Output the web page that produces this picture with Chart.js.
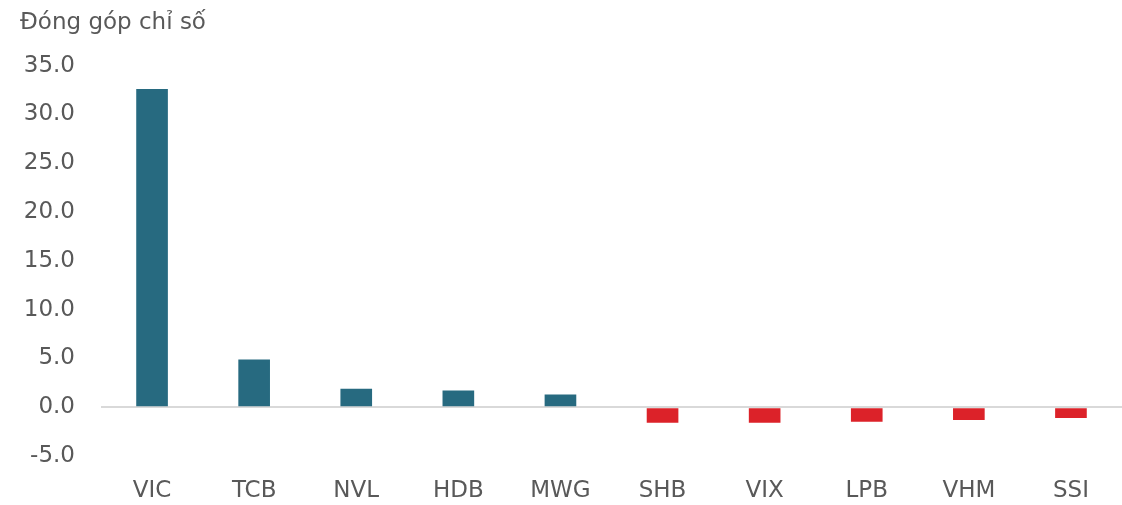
<!DOCTYPE html>
<html>
<head>
<meta charset="utf-8">
<script src="https://cdn.jsdelivr.net/npm/chart.js@4.4.1/dist/chart.umd.min.js"></script>
<style>
  html, body { margin: 0; padding: 0; background: #fff; }
  .chart-box { position: relative; width: 1122px; height: 505px; }
</style>
</head>
<body>
<div class="chart-box"><canvas id="chart"></canvas></div>
<script>
// Dong gop chi so theo ma co phieu
const maCP = ['VIC', 'TCB', 'NVL', 'HDB', 'MWG', 'SHB', 'VIX', 'LPB', 'VHM', 'SSI']
const dongGop = [32.6, 4.9, 1.9, 1.7, 1.3, -1.6, -1.6, -1.5, -1.3, -1.1]
const yMin = -5
const yMax = 35
const yStep = 5

const colors = dongGop.map((v) => (v >= 0 ? '#276a80' : '#dc2229'))
const fontFamily = '"DejaVu Sans", sans-serif'
const textColor = '#595959'

new Chart(document.getElementById('chart'), {
  type: 'bar',
  data: {
    labels: maCP,
    datasets: [{ label: 'Đóng góp chỉ số', data: dongGop, backgroundColor: colors,
      barPercentage: 0.31, categoryPercentage: 1 }]
  },
  options: {
    responsive: true,
    maintainAspectRatio: false,
    animation: false,
    layout: { padding: { left: 20, right: 0, top: 9, bottom: 0 } },
    scales: {
      x: {
        grid: { display: false, drawTicks: false },
        border: { display: false },
        afterFit: (scale) => { scale.height = 49 },
        ticks: { color: textColor, font: { family: fontFamily, size: 23, lineHeight: 1 }, padding: 24 }
      },
      y: {
        min: yMin,
        max: yMax,
        border: { display: false },
        afterFit: (scale) => { scale.width = 81 },
        grid: {
          drawTicks: false,
          lineWidth: 2,
          color: (ctx) => (ctx.tick && ctx.tick.value === 0 ? '#d9d9d9' : 'rgba(0,0,0,0)')
        },
        ticks: {
          stepSize: yStep,
          padding: 26,
          color: textColor,
          font: { family: fontFamily, size: 23 },
          callback: (v) => v.toFixed(1)
        }
      }
    },
    plugins: {
      legend: { display: false },
      tooltip: { enabled: false },
      title: {
        display: true,
        text: 'Đóng góp chỉ số',
        align: 'start',
        color: textColor,
        font: { family: fontFamily, size: 23, weight: 'normal' },
        padding: { top: 0, bottom: 29 }
      }
    }
  }
})
</script>
</body>
</html>
